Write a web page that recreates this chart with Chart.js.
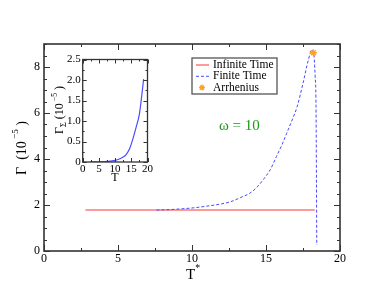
<!DOCTYPE html>
<html>
<head>
<meta charset="utf-8">
<script src="https://cdn.jsdelivr.net/npm/chart.js@4/dist/chart.umd.min.js"></script>
<style>
  body { margin: 0; background: #fff; }
  #wrap { position: relative; width: 382px; height: 295px; }
  #main { position: absolute; left: 0; top: 0; }
  #inset { position: absolute; left: 40px; top: 48px; }
</style>
</head>
<body>
<div id="wrap">
  <canvas id="main" width="382" height="295"></canvas>
  <canvas id="inset" width="118" height="140"></canvas>
</div>
<script>
// main panel data
const infT = [2.8, 6, 10, 14, 18.3];
const infGamma = [1.78, 1.78, 1.78, 1.78, 1.78];

const finT = [7.6, 8.5, 9.2, 10, 11, 12, 12.6, 13.3, 13.9, 14.4, 14.8, 15.3, 15.7, 16.1, 16.4, 16.8, 17.1, 17.5, 17.86, 18.1, 18.22, 18.32, 18.38, 18.41, 18.43];
const finGamma = [1.78, 1.80, 1.83, 1.87, 1.95, 2.05, 2.14, 2.33, 2.51, 2.78, 3.09, 3.55, 4.1, 4.65, 5.12, 5.75, 6.27, 7.29, 8.3, 8.74, 8.62, 7.6, 6.27, 3.0, 0.26];

const arrT = [18.2];
const arrGamma = [8.62];

const xTicks = [0, 5, 10, 15, 20];
const yTicks = [0, 2, 4, 6, 8];

// inset data
const insetT = [2.3, 5, 7.5, 10, 11.5, 12.5, 13.4, 14.5, 15.4, 16.5, 17.5, 18.2, 18.8];
const insetGamma = [0.0, 0.005, 0.015, 0.04, 0.08, 0.12, 0.18, 0.33, 0.54, 0.85, 1.17, 1.6, 2.02];
const insetXTicks = [0, 5, 10, 15, 20];
const insetYTicks = [0, 0.5, 1, 1.5, 2, 2.5];

const SERIF = '"Liberation Serif", "DejaVu Serif", serif';

function pts(xs, ys) {
  return xs.map((v, i) => ({x: v, y: ys[i]}));
}

// frame with inward ticks on all four sides
const frameTicks = {
  id: 'frameTicks',
  afterDraw(chart, args, o) {
    const {ctx, chartArea: a, scales: {x, y}} = chart;
    ctx.save();
    ctx.strokeStyle = '#333';
    ctx.lineWidth = o.lw;
    ctx.strokeRect(a.left, a.top, a.right - a.left, a.bottom - a.top);
    ctx.lineWidth = 1;
    ctx.beginPath();
    for (let v = x.min; v <= x.max + 1e-9; v += o.xMinor) {
      const px = Math.round(x.getPixelForValue(v)) + 0.5;
      const len = Math.abs(v / o.xMajor - Math.round(v / o.xMajor)) < 1e-6 ? o.major : o.minor;
      ctx.moveTo(px, a.bottom); ctx.lineTo(px, a.bottom - len);
      ctx.moveTo(px, a.top); ctx.lineTo(px, a.top + len);
    }
    for (let v = y.min; v <= y.max + 1e-9; v += o.yMinor) {
      const py = Math.round(y.getPixelForValue(v)) + 0.5;
      const len = Math.abs(v / o.yMajor - Math.round(v / o.yMajor)) < 1e-6 ? o.major : o.minor;
      ctx.moveTo(a.left, py); ctx.lineTo(a.left + len, py);
      ctx.moveTo(a.right, py); ctx.lineTo(a.right - len, py);
    }
    ctx.stroke();
    ctx.restore();
  }
};

// axis titles with superscripts
function drawParts(ctx, parts, x, y, size) {
  let cx = x;
  parts.forEach(p => {
    const s = p.sup ? size * 0.65 : (p.sub ? size * 0.7 : size);
    ctx.font = s + 'px ' + SERIF;
    const dy = p.sup ? -size * 0.45 : (p.sub ? size * 0.3 : 0);
    ctx.fillText(p.t, cx, y + dy);
    cx += ctx.measureText(p.t).width;
  });
  return cx - x;
}
function partsWidth(ctx, parts, size) {
  let w = 0;
  parts.forEach(p => {
    const s = p.sup ? size * 0.65 : (p.sub ? size * 0.7 : size);
    ctx.font = s + 'px ' + SERIF;
    w += ctx.measureText(p.t).width;
  });
  return w;
}
const axisTitles = {
  id: 'axisTitles',
  afterDraw(chart, args, o) {
    const ctx = chart.ctx;
    ctx.save();
    ctx.fillStyle = '#000';
    ctx.textBaseline = 'middle';
    ctx.textAlign = 'left';
    // x title
    const wx = partsWidth(ctx, o.x.parts, o.x.size);
    drawParts(ctx, o.x.parts, o.x.cx - wx / 2, o.x.cy, o.x.size);
    // y title rotated
    ctx.translate(o.y.cx, o.y.cy);
    ctx.rotate(-Math.PI / 2);
    const wy = partsWidth(ctx, o.y.parts, o.y.size);
    drawParts(ctx, o.y.parts, -wy / 2, 0, o.y.size);
    ctx.restore();
  }
};

// boxed legend inside the plot
const boxLegend = {
  id: 'boxLegend',
  afterDraw(chart, args, o) {
    const ctx = chart.ctx;
    ctx.save();
    ctx.fillStyle = '#fff';
    ctx.fillRect(o.x, o.y, o.w, o.h);
    ctx.strokeStyle = '#555';
    ctx.lineWidth = 1.3;
    ctx.strokeRect(o.x, o.y, o.w, o.h);
    ctx.font = o.size + 'px ' + SERIF;
    ctx.textBaseline = 'middle';
    chart.data.datasets.forEach((ds, i) => {
      const cy = o.y + o.first + i * o.row;
      if (ds.showLine === false) {
        ctx.strokeStyle = ds.pointBorderColor;
        ctx.lineWidth = 1.3;
        const sx = o.x + 10, r = 3;
        ctx.beginPath();
        for (let k = 0; k < 4; k++) {
          const ang = k * Math.PI / 4;
          ctx.moveTo(sx - r * Math.cos(ang), cy - r * Math.sin(ang));
          ctx.lineTo(sx + r * Math.cos(ang), cy + r * Math.sin(ang));
        }
        ctx.stroke();
      } else {
        ctx.strokeStyle = ds.borderColor;
        ctx.lineWidth = ds.borderWidth;
        ctx.setLineDash(ds.borderDash || []);
        ctx.beginPath();
        ctx.moveTo(o.x + 4, cy); ctx.lineTo(o.x + 17, cy);
        ctx.stroke();
        ctx.setLineDash([]);
      }
      ctx.fillStyle = '#000';
      ctx.fillText(ds.label, o.x + 21, cy);
    });
    ctx.restore();
  }
};

const omegaText = {
  id: 'omegaText',
  afterDraw(chart) {
    const ctx = chart.ctx;
    ctx.save();
    ctx.fillStyle = '#1a9a1a';
    ctx.font = '15px ' + SERIF;
    ctx.textBaseline = 'middle';
    ctx.textAlign = 'left';
    ctx.fillText('\u03C9 = 10', 219, 126);
    ctx.restore();
  }
};

const whiteBg = {
  id: 'whiteBg',
  beforeDraw(chart, args, o) {
    const ctx = chart.ctx;
    const a = chart.chartArea;
    ctx.save();
    ctx.fillStyle = '#fff';
    if (o.full) ctx.fillRect(0, 0, chart.width, chart.height);
    else ctx.fillRect(a.left, a.top, a.right - a.left, a.bottom - a.top);
    ctx.restore();
  }
};

new Chart(document.getElementById('main'), {
  type: 'scatter',
  data: {
    datasets: [{
      label: 'Infinite Time',
      data: pts(infT, infGamma),
      showLine: true,
      borderColor: '#ff9a9a',
      borderWidth: 2,
      pointRadius: 0,
      order: 2
    }, {
      label: 'Finite Time',
      data: pts(finT, finGamma),
      showLine: true,
      borderColor: '#4a4aff',
      borderWidth: 1,
      borderDash: [3, 2],
      cubicInterpolationMode: 'monotone',
      pointRadius: 0,
      order: 1
    }, {
      label: 'Arrhenius',
      data: pts(arrT, arrGamma),
      showLine: false,
      pointStyle: 'star',
      pointRadius: 3.5,
      pointBorderWidth: 1.3,
      pointBackgroundColor: '#ffa020',
      pointBorderColor: '#ffa020',
      order: 0
    }]
  },
  options: {
    responsive: false,
    devicePixelRatio: 1,
    animation: false,
    layout: { padding: { left: 0, top: 44, right: 42, bottom: 0 } },
    plugins: {
      legend: { display: false },
      tooltip: { enabled: false },
      whiteBg: { full: true },
      frameTicks: { lw: 1.6, xMajor: 5, xMinor: 2.5, yMajor: 2, yMinor: 0.5, major: 6, minor: 3 },
      axisTitles: {
        x: { parts: [{t: 'T'}, {t: '*', sup: true}], cx: 193, cy: 275, size: 15 },
        y: { parts: [{t: '\u0393  (10'}, {t: ' \u22125', sup: true}, {t: ' )'}], cx: 22, cy: 148, size: 14 }
      },
      boxLegend: { x: 192, y: 58, w: 85, h: 36, first: 7, row: 11.3, size: 11.5 }
    },
    scales: {
      x: {
        type: 'linear', min: 0, max: 20,
        afterBuildTicks: s => { s.ticks = xTicks.map(v => ({value: v})); },
        afterFit: s => { s.height = 44; },
        grid: { display: false, drawTicks: false },
        border: { display: false },
        ticks: { color: '#000', padding: 1, maxRotation: 0, font: { family: SERIF, size: 12 } }
      },
      y: {
        type: 'linear', min: 0, max: 9,
        afterBuildTicks: s => { s.ticks = yTicks.map(v => ({value: v})); },
        afterFit: s => { s.width = 44; },
        grid: { display: false, drawTicks: false },
        border: { display: false },
        ticks: { color: '#000', padding: 4, font: { family: SERIF, size: 12 } }
      }
    }
  },
  plugins: [whiteBg, frameTicks, axisTitles, boxLegend, omegaText]
});

new Chart(document.getElementById('inset'), {
  type: 'scatter',
  data: {
    datasets: [{
      label: 'inset',
      data: pts(insetT, insetGamma),
      showLine: true,
      borderColor: '#4d4dff',
      borderWidth: 1.2,
      cubicInterpolationMode: 'monotone',
      pointRadius: 0
    }]
  },
  options: {
    responsive: false,
    devicePixelRatio: 1,
    animation: false,
    layout: { padding: { left: 0, top: 11.5, right: 10.5, bottom: 0 } },
    plugins: {
      legend: { display: false },
      tooltip: { enabled: false },
      whiteBg: { full: false },
      frameTicks: { lw: 1.3, xMajor: 5, xMinor: 2.5, yMajor: 0.5, yMinor: 0.25, major: 4, minor: 2 },
      axisTitles: {
        x: { parts: [{t: 'T'}], cx: 75, cy: 130, size: 12 },
        y: { parts: [{t: '\u0393'}, {t: '\u03A3', sub: true}, {t: ' (10'}, {t: ' \u22125', sup: true}, {t: ' )'}], cx: 20, cy: 62, size: 12 }
      }
    },
    scales: {
      x: {
        type: 'linear', min: 0, max: 20,
        afterBuildTicks: s => { s.ticks = insetXTicks.map(v => ({value: v})); },
        afterFit: s => { s.height = 26; },
        grid: { display: false, drawTicks: false },
        border: { display: false },
        ticks: { color: '#000', padding: 1, maxRotation: 0, font: { family: SERIF, size: 11 } }
      },
      y: {
        type: 'linear', min: 0, max: 2.5,
        afterBuildTicks: s => { s.ticks = insetYTicks.map(v => ({value: v})); },
        afterFit: s => { s.width = 42.7; },
        grid: { display: false, drawTicks: false },
        border: { display: false },
        ticks: { color: '#000', padding: 2, font: { family: SERIF, size: 11 } }
      }
    }
  },
  plugins: [whiteBg, frameTicks, axisTitles]
});
</script>
</body>
</html>
